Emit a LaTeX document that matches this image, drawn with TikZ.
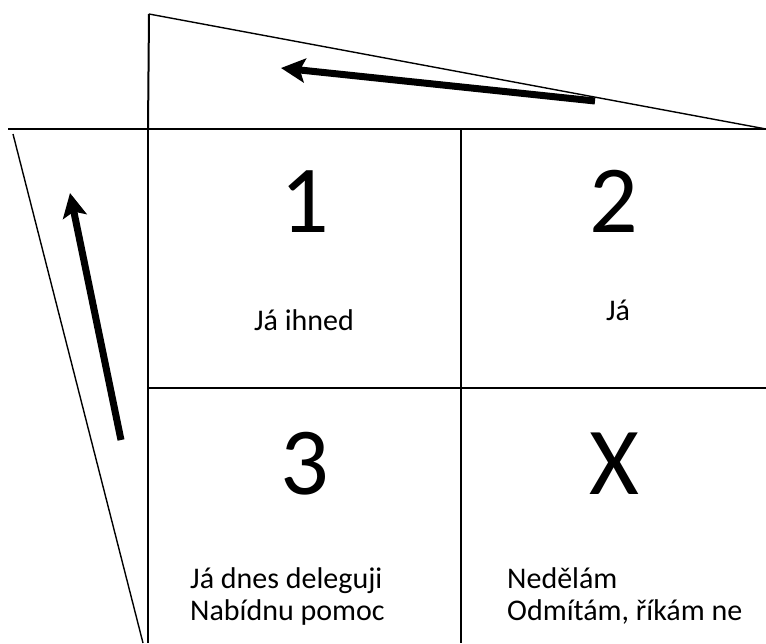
\documentclass[tikz,border=0pt]{standalone}
\usepackage{fontspec}
\setmainfont{Carlito}
\usetikzlibrary{arrows.meta}

\begin{document}
\begin{tikzpicture}[x=1pt, y=-1pt,
    gridline/.style={draw=black, line width=2pt},
    slantline/.style={draw=black, line width=1.4pt},
    bigarrow/.style={draw=black, line width=7pt,
                     -{Stealth[length=24pt, width=24pt, inset=5pt]}},
    digit/.style={font=\fontsize{96}{96}\selectfont, inner sep=0pt, anchor=base},
    celltext/.style={font=\fontsize{30}{36}\selectfont, inner sep=0pt}]

  \useasboundingbox (0,0) rectangle (766,643);

  % ---- corners of the grid and the two wedges
  \coordinate (farleft)  at (8,129);
  \coordinate (gridtl)   at (148,129);
  \coordinate (gridtm)   at (461,129);
  \coordinate (gridtr)   at (766,129);
  \coordinate (gridml)   at (148,388);
  \coordinate (gridmr)   at (766,388);
  \coordinate (gridbl)   at (148,643);
  \coordinate (gridbm)   at (461,643);
  \coordinate (topapex)  at (149,14);
  \coordinate (leftapex) at (13,134);
  \coordinate (leftfoot) at (143,643);

  % ---- the grid
  \draw[gridline] (farleft) -- (gridtr);
  \draw[gridline] (gridtl) -- (gridbl);
  \draw[gridline] (gridtm) -- (gridbm);
  \draw[gridline] (gridml) -- (gridmr);

  % ---- the two wedges
  \draw[gridline]  (topapex) -- (gridtl);
  \draw[slantline] (topapex) -- (gridtr);
  \draw[slantline] (leftapex) -- (leftfoot);

  % ---- arrows inside the wedges
  \coordinate (toptail)  at (595,101);
  \coordinate (tophead)  at (281,68);
  \coordinate (lefttail) at (121,440);
  \coordinate (lefthead) at (70,193);
  \draw[bigarrow] (toptail) -- (tophead);
  \draw[bigarrow] (lefttail) -- (lefthead);

  % ---- the four cells
  \node[digit] (one)   at (305,232) {1};
  \node[digit] (two)   at (614,232) {2};
  \node[digit] (three) at (305,494) {3};
  \node[digit] (cross) at (614,494) {X};

  \node[celltext, anchor=base] (oneA) at (304,330) {Já ihned};
  \node[celltext, anchor=base] (twoA) at (618,320) {Já};
  \node[celltext, anchor=base west] (threeA) at (190,588) {Já dnes deleguji};
  \node[celltext, anchor=base west] (threeB) at (190,620) {Nabídnu pomoc};
  \node[celltext, anchor=base west] (crossA) at (507,588) {Nedělám};
  \node[celltext, anchor=base west] (crossB) at (507,620) {Odmítám, říkám ne};
\end{tikzpicture}
\end{document}
